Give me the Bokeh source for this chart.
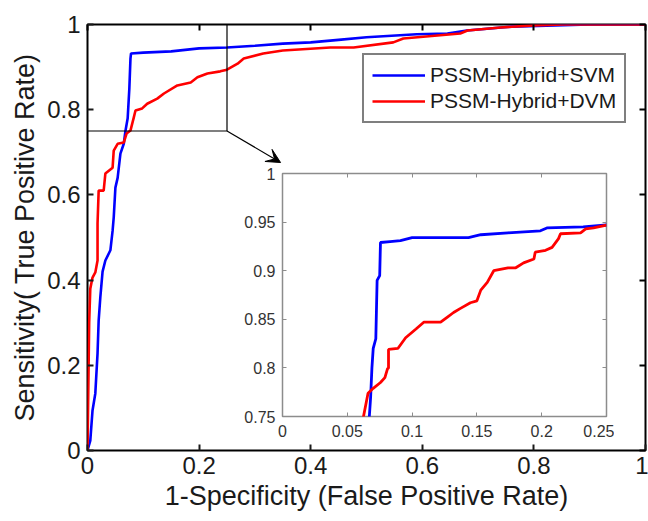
from bokeh.plotting import figure
from bokeh.models import Range1d, LinearAxis, FixedTicker, Legend, LegendItem, Arrow, VeeHead
from bokeh.embed import file_html
from bokeh.resources import INLINE

FONT = "Liberation Sans"

# ---------------- data ----------------
main_ticks = [0, 0.2, 0.4, 0.6, 0.8, 1.0]
main_tick_labels = ["0", "0.2", "0.4", "0.6", "0.8", "1"]

svm_fpr = [0, 0.005, 0.009, 0.014, 0.018, 0.02, 0.023, 0.027, 0.032, 0.041, 0.045, 0.047,
           0.05, 0.054, 0.059, 0.065, 0.068, 0.072, 0.075, 0.077, 0.078, 0.1, 0.15, 0.2,
           0.25, 0.3, 0.35, 0.4, 0.45, 0.5, 0.59, 0.645, 0.68, 0.76, 0.9, 1.0]
svm_tpr = [0, 0.023, 0.094, 0.134, 0.228, 0.305, 0.36, 0.42, 0.446, 0.47, 0.516, 0.547,
           0.617, 0.64, 0.697, 0.72, 0.75, 0.78, 0.85, 0.92, 0.932, 0.934, 0.937, 0.944,
           0.946, 0.95, 0.955, 0.958, 0.964, 0.97, 0.977, 0.979, 0.986, 0.995, 1.0, 1.0]

dvm_fpr = [0, 0.001, 0.002, 0.003, 0.005, 0.009, 0.014, 0.018, 0.018, 0.02, 0.029, 0.032,
           0.045, 0.047, 0.054, 0.065, 0.07, 0.077, 0.083, 0.086, 0.098, 0.107, 0.125,
           0.137, 0.161, 0.185, 0.197, 0.215, 0.238, 0.25, 0.269, 0.28, 0.315, 0.35,
           0.435, 0.477, 0.548, 0.566, 0.668, 0.681, 0.74, 0.8, 0.853, 1.0]
dvm_tpr = [0, 0.1, 0.2, 0.3, 0.38, 0.406, 0.418, 0.446, 0.533, 0.61, 0.61, 0.65,
           0.664, 0.704, 0.72, 0.723, 0.744, 0.751, 0.782, 0.798, 0.803, 0.814, 0.826,
           0.838, 0.857, 0.864, 0.876, 0.885, 0.89, 0.894, 0.908, 0.92, 0.932, 0.939,
           0.946, 0.946, 0.958, 0.967, 0.979, 0.986, 0.993, 0.998, 1.0, 1.0]

zoom_box_x = [0, 0.25, 0.25]
zoom_box_y = [0.75, 0.75, 1.0]
arrow_start = (0.25, 0.75)
arrow_end = (0.346, 0.676)

inset_xticks = [0, 0.05, 0.1, 0.15, 0.2, 0.25]
inset_xlabels = ["0", "0.05", "0.1", "0.15", "0.2", "0.25"]
inset_yticks = [0.75, 0.8, 0.85, 0.9, 0.95, 1.0]
inset_ylabels = ["0.75", "0.8", "0.85", "0.9", "0.95", "1"]

inset_svm_fpr = [0.066, 0.067, 0.068, 0.069, 0.070, 0.072, 0.073, 0.075, 0.0756, 0.083,
                 0.091, 0.10, 0.1435, 0.153, 0.174, 0.199, 0.204, 0.232, 0.25]
inset_svm_tpr = [0.74, 0.75, 0.77, 0.80, 0.82, 0.83, 0.89, 0.895, 0.929, 0.93,
                 0.931, 0.934, 0.934, 0.937, 0.939, 0.941, 0.944, 0.945, 0.947]

inset_dvm_fpr = [0.06, 0.0625, 0.066, 0.070, 0.0756, 0.079, 0.081, 0.0818, 0.0818, 0.089,
                 0.095, 0.103, 0.109, 0.122, 0.127, 0.132, 0.137, 0.145, 0.150, 0.153,
                 0.158, 0.163, 0.174, 0.180, 0.186, 0.194, 0.195, 0.203, 0.208, 0.213,
                 0.2145, 0.23, 0.234, 0.24, 0.25]
inset_dvm_tpr = [0.74, 0.75, 0.774, 0.779, 0.785, 0.79, 0.799, 0.80, 0.819, 0.82,
                 0.831, 0.840, 0.847, 0.847, 0.852, 0.857, 0.861, 0.867, 0.869, 0.880,
                 0.888, 0.900, 0.903, 0.903, 0.908, 0.912, 0.919, 0.921, 0.924, 0.933,
                 0.938, 0.939, 0.943, 0.944, 0.947]

series_names = ["PSSM-Hybrid+SVM", "PSSM-Hybrid+DVM"]
BLUE = "#0000ff"
RED = "#ff0000"


def style_axis(ax, ticks, labels, color, size, tick_len, standoff):
    ax.ticker = FixedTicker(ticks=ticks)
    ax.major_label_overrides = {t: l for t, l in zip(ticks, labels)}
    ax.major_label_text_font = FONT
    ax.major_label_text_font_size = size
    ax.major_label_text_color = color
    ax.major_label_standoff = standoff
    ax.major_tick_in = tick_len
    ax.major_tick_out = 0
    ax.major_tick_line_color = color
    ax.minor_tick_line_color = None
    ax.axis_line_color = None


def box_axis(fig, loc, ticks, color, tick_len, width):
    ax = LinearAxis(ticker=FixedTicker(ticks=ticks),
                    major_label_overrides={t: "" for t in ticks},
                    major_label_text_font_size="1px",
                    major_label_standoff=0,
                    major_tick_in=tick_len, major_tick_out=0,
                    major_tick_line_color=color, major_tick_line_width=width,
                    minor_tick_line_color=None, axis_line_color=None)
    fig.add_layout(ax, loc)


# ---------------- main figure ----------------
p = figure(width=648, height=521, output_backend="svg", toolbar_location=None,
           x_range=Range1d(0, 1), y_range=Range1d(0, 1),
           min_border_left=87, min_border_right=3, min_border_top=24, min_border_bottom=71)
p.grid.visible = False
p.background_fill_color = "white"
p.border_fill_color = "white"
p.outline_line_color = "black"
p.outline_line_width = 2
p.outline_line_alpha = 1

style_axis(p.xaxis[0], main_ticks, main_tick_labels, "#1a1a1a", "24px", 6, 6)
style_axis(p.yaxis[0], main_ticks, main_tick_labels, "#1a1a1a", "24px", 6, 7)
p.xaxis[0].major_tick_line_width = 2
p.yaxis[0].major_tick_line_width = 2
p.xaxis[0].axis_label = "1-Specificity (False Positive Rate)"
p.yaxis[0].axis_label = "Sensitivity( True Positive Rate)"
for ax in (p.xaxis[0], p.yaxis[0]):
    ax.axis_label_text_font = FONT
    ax.axis_label_text_font_style = "normal"
    ax.axis_label_text_color = "#1a1a1a"
    ax.axis_label_standoff = 4
    ax.axis_label_text_font_size = "27px"
box_axis(p, "above", main_ticks, "black", 6, 2)
box_axis(p, "right", main_ticks, "black", 6, 2)

r_svm = p.line(svm_fpr, svm_tpr, line_color=BLUE, line_width=2.6)
r_dvm = p.line(dvm_fpr, dvm_tpr, line_color=RED, line_width=2.6)

p.line(zoom_box_x, zoom_box_y, line_color="black", line_width=1.2)
p.add_layout(Arrow(end=VeeHead(size=14, fill_color="black", line_color="black", line_width=1),
                   x_start=arrow_start[0], y_start=arrow_start[1],
                   x_end=arrow_end[0], y_end=arrow_end[1],
                   line_color="black", line_width=1.2))

legend = Legend(items=[LegendItem(label=series_names[0], renderers=[r_svm]),
                       LegendItem(label=series_names[1], renderers=[r_dvm])],
                location=(275, 327))
legend.label_text_font = FONT
legend.label_text_font_size = "21px"
legend.label_text_color = "#1a1a1a"
legend.glyph_width = 53
legend.glyph_height = 20
legend.label_standoff = 5
legend.label_height = 22
legend.padding = 8
legend.spacing = 2
legend.margin = 0
legend.border_line_color = "black"
legend.border_line_width = 2
legend.background_fill_color = "white"
p.add_layout(legend)

# ---------------- inset figure ----------------
q = figure(width=376, height=281, output_backend="svg", toolbar_location=None,
           x_range=Range1d(0, 0.25), y_range=Range1d(0.75, 1.0),
           min_border_left=44, min_border_right=8, min_border_top=8, min_border_bottom=30)
q.grid.visible = False
q.background_fill_color = "white"
q.border_fill_color = None
q.outline_line_color = "#8c8c8c"
q.outline_line_width = 1.5
style_axis(q.xaxis[0], inset_xticks, inset_xlabels, "#333333", "16px", 4, 8)
style_axis(q.yaxis[0], inset_yticks, inset_ylabels, "#333333", "16px", 4, 7)
q.xaxis[0].major_tick_line_color = "#8c8c8c"
q.yaxis[0].major_tick_line_color = "#8c8c8c"
box_axis(q, "above", inset_xticks, "#8c8c8c", 4, 1)
box_axis(q, "right", inset_yticks, "#8c8c8c", 4, 1)
q.line(inset_svm_fpr, inset_svm_tpr, line_color=BLUE, line_width=2.8)
q.line(inset_dvm_fpr, inset_dvm_tpr, line_color=RED, line_width=2.8)
q.styles = {"position": "absolute", "left": "238px", "top": "165px"}

open("out.html", "w").write(file_html([p, q], INLINE))
